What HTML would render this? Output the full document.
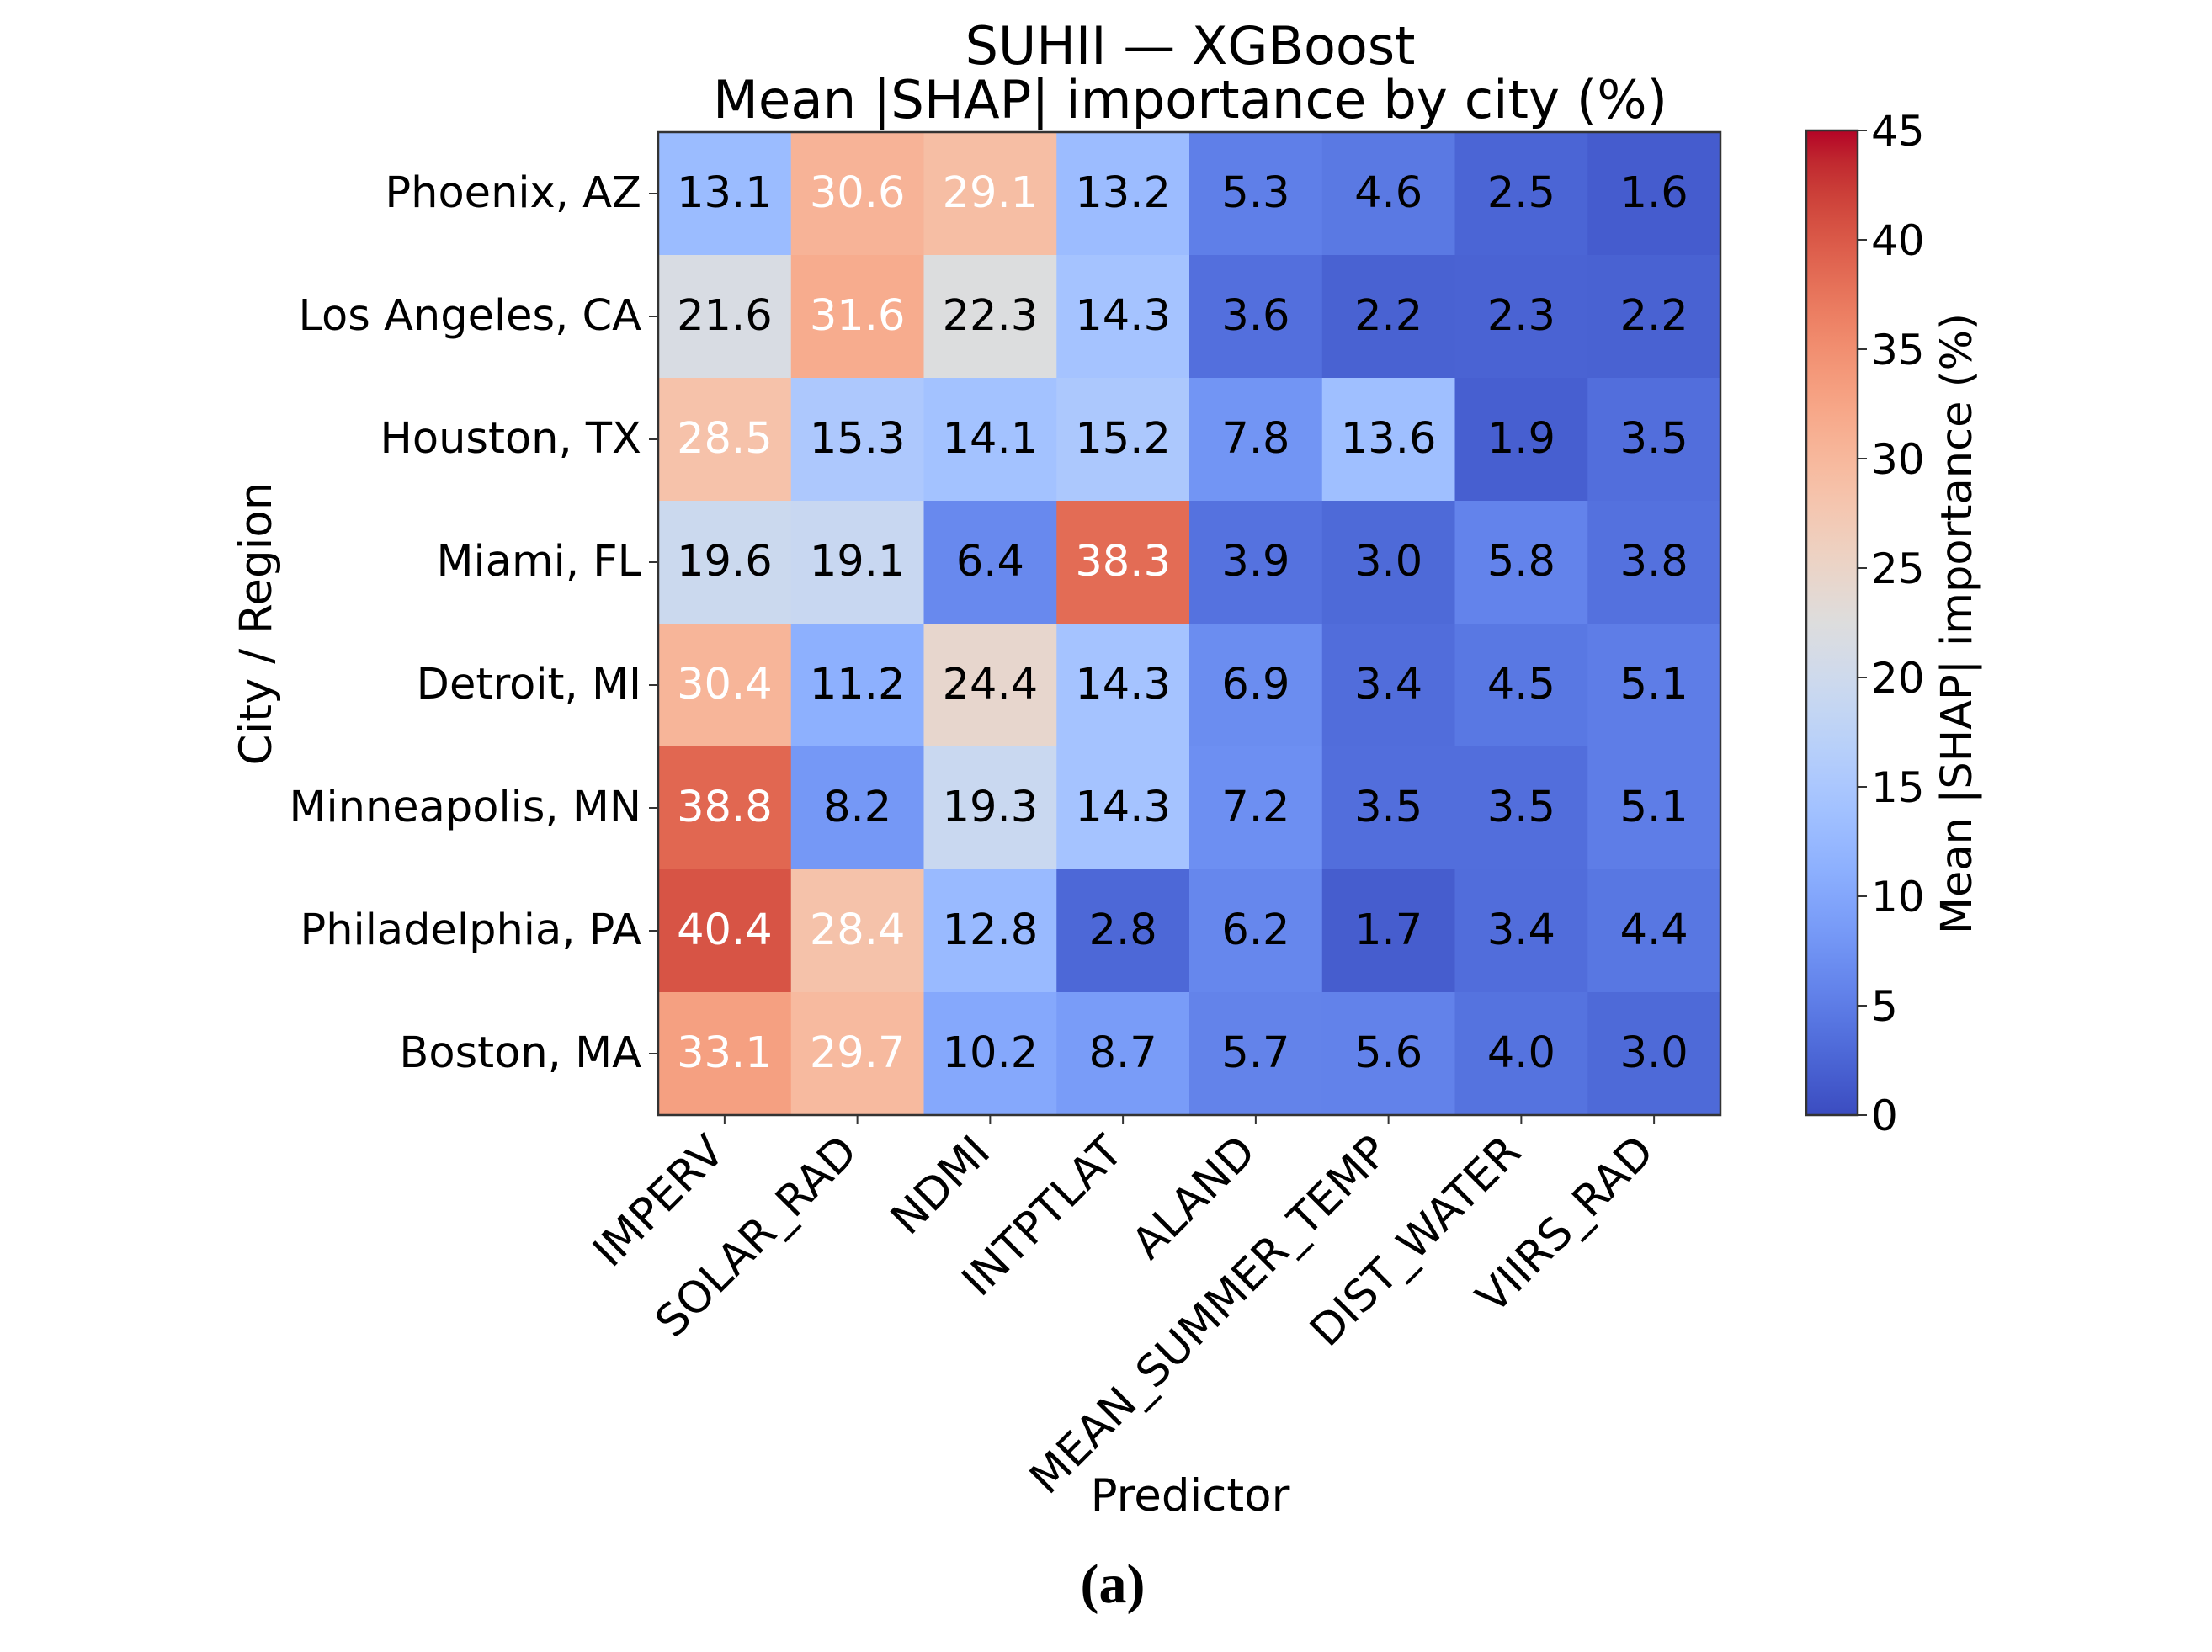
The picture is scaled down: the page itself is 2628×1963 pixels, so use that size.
<!DOCTYPE html>
<html><head><meta charset="utf-8"><style>
html,body{margin:0;padding:0;background:#fff;}
svg{display:block;font-family:"DejaVu Sans","Liberation Sans",sans-serif;}
</style></head><body>
<svg id="chart" width="2628" height="1963" viewBox="0 0 2628 1963" xmlns="http://www.w3.org/2000/svg">
<text x="1414" y="76" font-size="62" text-anchor="middle">SUHII — XGBoost</text>
<text x="1414" y="140" font-size="62.5" text-anchor="middle">Mean |SHAP| importance by city (%)</text>
<g id="cells"></g>
<g id="xt"></g>
<g id="yt"></g>
<text transform="translate(322,741) rotate(-90)" font-size="53" text-anchor="middle">City / Region</text>
<text x="1414" y="1795" font-size="53" text-anchor="middle">Predictor</text>
<defs><linearGradient id="cg" x1="0" y1="1" x2="0" y2="0"></linearGradient></defs>
<g id="cb"></g>
<text transform="translate(2342,741) rotate(-90)" font-size="51" text-anchor="middle">Mean |SHAP| importance (%)</text>
<text x="1322" y="1904" font-size="66" font-weight="bold" text-anchor="middle" font-family="Liberation Serif, serif">(a)</text>
</svg>
<script>
const cities=["Phoenix, AZ","Los Angeles, CA","Houston, TX","Miami, FL","Detroit, MI","Minneapolis, MN","Philadelphia, PA","Boston, MA"];
const predictors=["IMPERV","SOLAR_RAD","NDMI","INTPTLAT","ALAND","MEAN_SUMMER_TEMP","DIST_WATER","VIIRS_RAD"];
const row0=[13.1,30.6,29.1,13.2,5.3,4.6,2.5,1.6];
const row1=[21.6,31.6,22.3,14.3,3.6,2.2,2.3,2.2];
const row2=[28.5,15.3,14.1,15.2,7.8,13.6,1.9,3.5];
const row3=[19.6,19.1,6.4,38.3,3.9,3.0,5.8,3.8];
const row4=[30.4,11.2,24.4,14.3,6.9,3.4,4.5,5.1];
const row5=[38.8,8.2,19.3,14.3,7.2,3.5,3.5,5.1];
const row6=[40.4,28.4,12.8,2.8,6.2,1.7,3.4,4.4];
const row7=[33.1,29.7,10.2,8.7,5.7,5.6,4.0,3.0];
const values=[row0,row1,row2,row3,row4,row5,row6,row7];
const cbTicks=[0,5,10,15,20,25,30,35,40,45];
const vmin=0,vmax=45;

const NS="http://www.w3.org/2000/svg";
const L=782,R=2044,T=157,B=1325;
const cw=(R-L)/predictors.length, ch=(B-T)/cities.length;
const xPos=i=>L+cw*i, yPos=j=>T+ch*j;
const CB={x:2146,w:61,top:155,bot:1325};
const cbY=v=>CB.bot-(v-vmin)/(vmax-vmin)*(CB.bot-CB.top);
const cm=[[59,76,192],[68,90,204],[77,104,215],[87,117,225],[98,130,234],[108,142,241],[119,154,247],[130,165,251],[141,176,254],[152,185,255],[163,194,255],[174,201,253],[184,208,249],[194,213,244],[204,217,238],[213,219,230],[221,221,221],[229,216,209],[236,211,197],[241,204,185],[245,196,173],[247,187,160],[247,177,148],[247,166,135],[244,154,123],[241,141,111],[236,127,99],[229,112,88],[222,96,77],[213,80,66],[203,62,56],[192,40,47],[180,4,38]];
function color(v){let t=Math.max(0,Math.min(1,(v-vmin)/(vmax-vmin)))*(cm.length-1);let i=Math.min(cm.length-2,Math.floor(t)),f=t-i;const c=cm[i].map((a,k)=>Math.round(a+(cm[i+1][k]-a)*f));return `rgb(${c})`;}
function mk(tag,attrs,parent){const e=document.createElementNS(NS,tag);for(const k in attrs)e.setAttribute(k,attrs[k]);parent.appendChild(e);return e;}

const cells=document.getElementById('cells');
values.forEach((row,j)=>row.forEach((v,i)=>{
  const r=mk('rect',{x:xPos(i),y:yPos(j),width:cw+0.5,height:ch+0.5,fill:color(v)},cells);
  
  
  const t=mk('text',{x:xPos(i)+cw/2,y:yPos(j)+ch/2+16,'font-size':51,'text-anchor':'middle',fill:v>=26?'#fff':'#000'},cells);
  t.textContent=v.toFixed(1);
  
  
}));
const fr=mk('rect',{x:L,y:T,width:R-L,height:B-T,fill:'none',stroke:'#333','stroke-width':2.5},cells);



const xt=document.getElementById('xt');
predictors.forEach((p,i)=>{
  const cx=xPos(i)+cw/2;
  mk('line',{x1:cx,y1:B,x2:cx,y2:B+11,stroke:'#333','stroke-width':2},xt);
  const t=mk('text',{transform:`translate(${cx-24},${B+20}) rotate(-45)`,'font-size':52,'text-anchor':'end',dy:'0.72em'},xt);
  t.textContent=p;
  
  
});
const yt=document.getElementById('yt');
cities.forEach((c,j)=>{
  const cy=yPos(j)+ch/2;
  mk('line',{x1:L-11,y1:cy,x2:L,y2:cy,stroke:'#333','stroke-width':2},yt);
  const t=mk('text',{x:L-20,y:cy+16,'font-size':51,'text-anchor':'end'},yt);
  t.textContent=c;
  
  
});

const g=document.getElementById('cg');
for(let k=0;k<cm.length;k++){mk('stop',{offset:k/(cm.length-1),'stop-color':`rgb(${cm[k]})`},g);}
const cb=document.getElementById('cb');
const cr=mk('rect',{x:CB.x,y:CB.top,width:CB.w,height:CB.bot-CB.top,fill:'url(#cg)',stroke:'#333','stroke-width':2.5},cb);


cbTicks.forEach(v=>{
  const y=cbY(v);
  mk('line',{x1:CB.x+CB.w,y1:y,x2:CB.x+CB.w+11,y2:y,stroke:'#333','stroke-width':2},cb);
  const t=mk('text',{x:CB.x+CB.w+16,y:y+18,'font-size':50},cb);
  t.textContent=v;
  
  
});
</script>
</body></html>
